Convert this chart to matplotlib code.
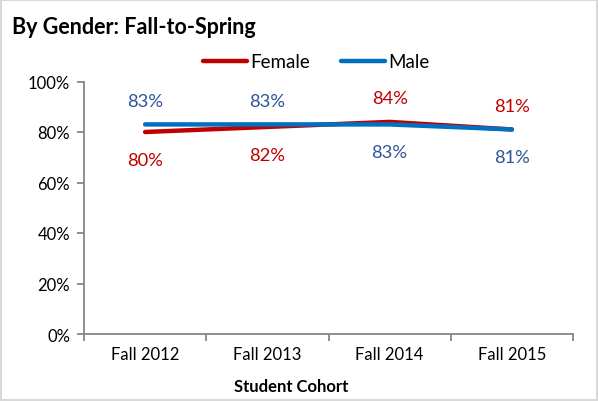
import matplotlib.pyplot as plt
from matplotlib.patches import Rectangle

plt.rcParams['font.family'] = ['Lato', 'DejaVu Sans']

cohorts = ["Fall 2012", "Fall 2013", "Fall 2014", "Fall 2015"]
female = [0.80, 0.82, 0.84, 0.81]
male = [0.83, 0.83, 0.83, 0.81]
# label placement: +1 above the point, -1 below
female_side = [-1, -1, 1, 1]
male_side = [1, 1, -1, -1]

red = '#C00000'
blue = '#0070C0'
blue_text = '#2F5597'
gray = '#868686'

fig = plt.figure(figsize=(5.98, 4.02), dpi=100)
ax = fig.add_axes([84 / 598, 1 - 335 / 402, 489 / 598, 252.5 / 402])

x = list(range(len(cohorts)))
ax.plot(x, female, color=red, lw=3.2, solid_capstyle='round', label='Female', zorder=3)
ax.plot(x, male, color=blue, lw=3.2, solid_capstyle='round', label='Male', zorder=4)


def offset(side):
    return 17 if side > 0 else -20


for i in x:
    ax.annotate(f'{female[i] * 100:.0f}%', (i, female[i]), xytext=(0, offset(female_side[i])),
                textcoords='offset points', ha='center', va='center', color=red, fontsize=13.2)
    ax.annotate(f'{male[i] * 100:.0f}%', (i, male[i]), xytext=(0, offset(male_side[i])),
                textcoords='offset points', ha='center', va='center', color=blue_text, fontsize=13.2)

ax.set_xlim(-0.5, len(cohorts) - 0.5)
ax.set_ylim(0, 1)
ax.set_yticks([0, 0.2, 0.4, 0.6, 0.8, 1.0])
ax.set_yticklabels(['0%', '20%', '40%', '60%', '80%', '100%'], fontsize=12)

# category boundaries as ticks, labels centered between them
ax.set_xticks([i - 0.5 for i in range(len(cohorts) + 1)])
ax.set_xticklabels([])
ax.set_xticks(x, minor=True)
ax.set_xticklabels(cohorts, minor=True, fontsize=12)
ax.tick_params(axis='x', which='minor', length=0, pad=9)
ax.tick_params(axis='x', which='major', length=5, color=gray, width=1.3)
ax.tick_params(axis='y', length=5, color=gray, width=1.3, pad=5)

for s in ['top', 'right']:
    ax.spines[s].set_visible(False)
for s in ['left', 'bottom']:
    ax.spines[s].set_color(gray)
    ax.spines[s].set_linewidth(1.3)

fig.text(291 / 598, 1 - 387 / 402, 'Student Cohort', ha='center', va='center',
         fontsize=12, fontweight='bold')
fig.text(12 / 598, 1 - 28 / 402, 'By Gender: Fall-to-Spring', ha='left', va='center',
         fontsize=15.5, fontweight='bold')

fig.legend(loc='center', bbox_to_anchor=(316 / 598, 1 - 63 / 402), ncol=2, frameon=False,
           fontsize=13.5, handlelength=2.35, handletextpad=0.16, columnspacing=1.65)

fig.patches.append(Rectangle((0.002, 0.003), 0.996, 0.994, transform=fig.transFigure,
                             fill=False, edgecolor='#D9D9D9', lw=1.5))

fig.savefig('out.png', dpi=100)
